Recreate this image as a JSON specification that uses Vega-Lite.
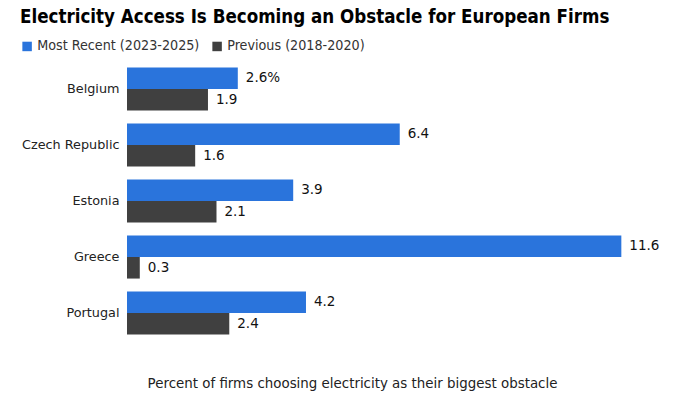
{
  "$schema": "https://vega.github.io/schema/vega-lite/v6.json",
  "autosize": "none",
  "width": 554,
  "height": 280,
  "padding": {"left": 127, "top": 61, "right": 19, "bottom": 53},
  "background": "white",
  "title": {
    "text": "Electricity Access Is Becoming an Obstacle for European Firms",
    "anchor": "start",
    "frame": "group",
    "dx": -107,
    "font": "DejaVu Sans Condensed",
    "fontSize": 18.6,
    "fontWeight": "bold",
    "color": "#000000",
    "offset": 12
  },
  "data": {
    "values": [
      {"country": "Belgium", "series": "Most Recent (2023-2025)", "value": 2.6, "label": "2.6%"},
      {"country": "Belgium", "series": "Previous (2018-2020)", "value": 1.9, "label": "1.9"},
      {"country": "Czech Republic", "series": "Most Recent (2023-2025)", "value": 6.4, "label": "6.4"},
      {"country": "Czech Republic", "series": "Previous (2018-2020)", "value": 1.6, "label": "1.6"},
      {"country": "Estonia", "series": "Most Recent (2023-2025)", "value": 3.9, "label": "3.9"},
      {"country": "Estonia", "series": "Previous (2018-2020)", "value": 2.1, "label": "2.1"},
      {"country": "Greece", "series": "Most Recent (2023-2025)", "value": 11.6, "label": "11.6"},
      {"country": "Greece", "series": "Previous (2018-2020)", "value": 0.3, "label": "0.3"},
      {"country": "Portugal", "series": "Most Recent (2023-2025)", "value": 4.2, "label": "4.2"},
      {"country": "Portugal", "series": "Previous (2018-2020)", "value": 2.4, "label": "2.4"}
    ]
  },
  "encoding": {
    "y": {
      "field": "country",
      "type": "nominal",
      "sort": ["Belgium", "Czech Republic", "Estonia", "Greece", "Portugal"],
      "scale": {"paddingInner": 0.23, "paddingOuter": 0.115},
      "axis": {
        "title": null,
        "ticks": false,
        "domain": false,
        "labelPadding": 8,
        "labelFont": "DejaVu Sans",
        "labelFontSize": 12.8,
        "labelColor": "#222222"
      }
    },
    "yOffset": {
      "field": "series",
      "type": "nominal",
      "sort": ["Most Recent (2023-2025)", "Previous (2018-2020)"],
      "scale": {"paddingInner": 0, "paddingOuter": 0}
    },
    "x": {
      "field": "value",
      "type": "quantitative",
      "scale": {"domain": [0, 13], "nice": false},
      "axis": {
        "title": "Percent of firms choosing electricity as their biggest obstacle",
        "labels": false,
        "ticks": false,
        "domain": false,
        "grid": false,
        "titleFont": "DejaVu Sans",
        "titleFontSize": 13.4,
        "titleFontWeight": "normal",
        "titleColor": "#222222",
        "titleX": 225,
        "titleY": 42,
        "titleAlign": "center",
        "titleBaseline": "middle"
      }
    }
  },
  "layer": [
    {
      "mark": {"type": "bar"},
      "encoding": {
        "color": {
          "field": "series",
          "type": "nominal",
          "sort": ["Most Recent (2023-2025)", "Previous (2018-2020)"],
          "scale": {"range": ["#2a74dc", "#404040"]},
          "legend": {
            "title": null,
            "orient": "none",
            "direction": "horizontal",
            "legendX": -107,
            "legendY": -22,
            "symbolType": "square",
            "symbolSize": 90,
            "symbolStrokeWidth": 0,
            "symbolOpacity": 1,
            "labelFont": "DejaVu Sans Condensed",
            "labelFontSize": 14.2,
            "labelLimit": 400,
            "labelColor": "#333333",
            "labelOffset": 3,
            "columnPadding": 10
          }
        }
      }
    },
    {
      "mark": {"type": "text", "align": "left", "baseline": "middle", "dx": 8, "font": "DejaVu Sans", "fontSize": 13.5, "color": "#111111"},
      "encoding": {"text": {"field": "label"}}
    }
  ],
  "config": {"view": {"stroke": null}}
}
